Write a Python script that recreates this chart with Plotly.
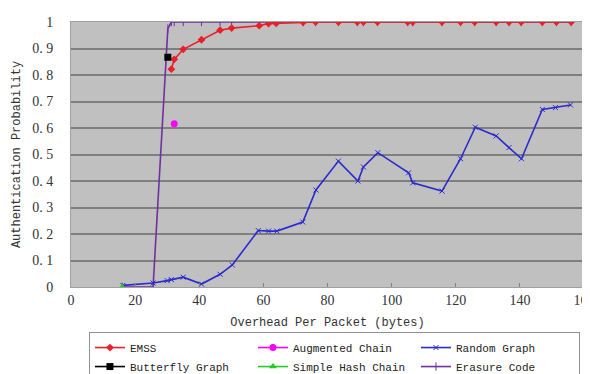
import plotly.graph_objects as go

# ---- data ----
emss_x = [31.3, 32.2, 35, 40.7, 46.5, 50.1, 58.7, 61.6, 64, 72.4, 76.3, 83.4, 89.3, 91.2, 95.6, 105, 106.6, 115.7, 121.5, 125.9, 132.6, 136.6, 140.4, 147, 151.4, 156]
emss_y = [0.822, 0.859, 0.897, 0.933, 0.969, 0.977, 0.986, 0.994, 0.995, 0.999, 1, 1, 1, 1, 1, 1, 1, 1, 1, 1, 1, 1, 1, 1, 1, 1]

butterfly_x = [30.2]
butterfly_y = [0.867]

augmented_x = [32.2]
augmented_y = [0.616]

simple_x = [16]
simple_y = [0.0]

random_x = [16.2, 25.6, 30, 31.3, 35, 40.7, 46.5, 50.3, 58.4, 61.6, 64.2, 72.3, 76.4, 83.4, 89.5, 91.2, 95.7, 105.3, 106.6, 115.7, 121.5, 126.1, 132.6, 136.6, 140.5, 147, 151.1, 155.8]
random_y = [0.006, 0.015, 0.024, 0.028, 0.037, 0.011, 0.048, 0.083, 0.213, 0.211, 0.211, 0.245, 0.366, 0.475, 0.400, 0.453, 0.507, 0.431, 0.393, 0.362, 0.484, 0.603, 0.570, 0.526, 0.484, 0.670, 0.677, 0.687]

erasure_x = [16, 25.6, 30.2, 31.3, 32.2, 35, 40.7, 46.5, 50.1, 58.7, 61.6, 64, 72.4, 76.3, 83.4, 89.3, 91.2, 95.6, 105, 106.6, 115.7, 121.5, 125.9, 132.6, 136.6, 140.4, 147, 151.4, 156]
erasure_y = [0, 0, 0.975, 1, 1, 1, 1, 1, 1, 1, 1, 1, 1, 1, 1, 1, 1, 1, 1, 1, 1, 1, 1, 1, 1, 1, 1, 1, 1]

y_ticks = [0, 0.1, 0.2, 0.3, 0.4, 0.5, 0.6, 0.7, 0.8, 0.9, 1]
y_tick_labels = ["0", "0. 1", "0. 2", "0. 3", "0. 4", "0. 5", "0. 6", "0. 7", "0. 8", "0. 9", "1"]
x_ticks = [0, 20, 40, 60, 80, 100, 120, 140, 160]
x_tick_labels = ["0", "20", "40", "60", "80", "100", "120", "140", "160"]

mono = "Liberation Mono, DejaVu Sans Mono, monospace"
serif = "Liberation Serif, DejaVu Serif, serif"

fig = go.Figure()

fig.add_trace(go.Scatter(x=erasure_x, y=erasure_y, name="Erasure Code", mode="lines+markers",
                         line=dict(color="#7030A0", width=1.6),
                         marker=dict(symbol="line-ns", size=6, line=dict(color="#7030A0", width=1)),
                         legendrank=6))
fig.add_trace(go.Scatter(x=random_x, y=random_y, name="Random Graph", mode="lines+markers",
                         line=dict(color="#2A2ACF", width=1.6),
                         marker=dict(symbol="x-thin", size=5, line=dict(color="#2A2ACF", width=1)),
                         legendrank=3))
fig.add_trace(go.Scatter(x=emss_x, y=emss_y, name="EMSS", mode="lines+markers",
                         line=dict(color="#E8202A", width=1.6),
                         marker=dict(symbol="diamond", size=6, color="#E8202A"),
                         legendrank=1))
fig.add_trace(go.Scatter(x=butterfly_x, y=butterfly_y, name="Butterfly Graph", mode="lines+markers",
                         line=dict(color="#000000", width=1.6),
                         marker=dict(symbol="square", size=7, color="#000000"),
                         legendrank=4))
fig.add_trace(go.Scatter(x=augmented_x, y=augmented_y, name="Augmented Chain", mode="lines+markers",
                         line=dict(color="#FF00FF", width=1.6),
                         marker=dict(symbol="circle", size=7, color="#FF00FF"),
                         legendrank=2))
fig.add_trace(go.Scatter(x=simple_x, y=simple_y, name="Simple Hash Chain", mode="lines+markers",
                         line=dict(color="#22CC22", width=1.6),
                         marker=dict(symbol="triangle-up", size=7, color="#22CC22"),
                         legendrank=5))

fig.update_layout(
    width=590, height=374,
    margin=dict(l=63, r=14, t=14, b=95, autoexpand=False),
    paper_bgcolor="white",
    plot_bgcolor="#C0C0C0",
    showlegend=True,
    legend=dict(orientation="h", x=0.035, y=-0.17, xanchor="left", yanchor="top",
                entrywidth=118, entrywidthmode="pixels",
                bordercolor="#909090", borderwidth=1,
                font=dict(family=mono, size=11, color="#222222"),
                tracegroupgap=0, itemwidth=30),
    xaxis=dict(range=[0, 160], tickvals=x_ticks, ticktext=x_tick_labels,
               showgrid=False, zeroline=False,
               ticks="inside", ticklen=4, tickcolor="#808080",
               showline=True, linecolor="#A0A0A0", linewidth=1, mirror=True,
               tickfont=dict(family=serif, size=14, color="#333333"),
               title=dict(text="Overhead Per Packet (bytes)", standoff=10,
                          font=dict(family=mono, size=12, color="#333333"))),
    yaxis=dict(range=[0, 1], tickvals=y_ticks, ticktext=y_tick_labels,
               showgrid=True, gridcolor="#7F7F7F", gridwidth=1.5,
               zeroline=False, ticks="", ticklabelstandoff=14,
               showline=True, linecolor="#A0A0A0", linewidth=1, mirror=True,
               tickfont=dict(family=serif, size=14, color="#333333"),
               title=dict(text="Authentication Probability", standoff=9,
                          font=dict(family=mono, size=12, color="#333333"))),
)

fig.write_html("out.html")
